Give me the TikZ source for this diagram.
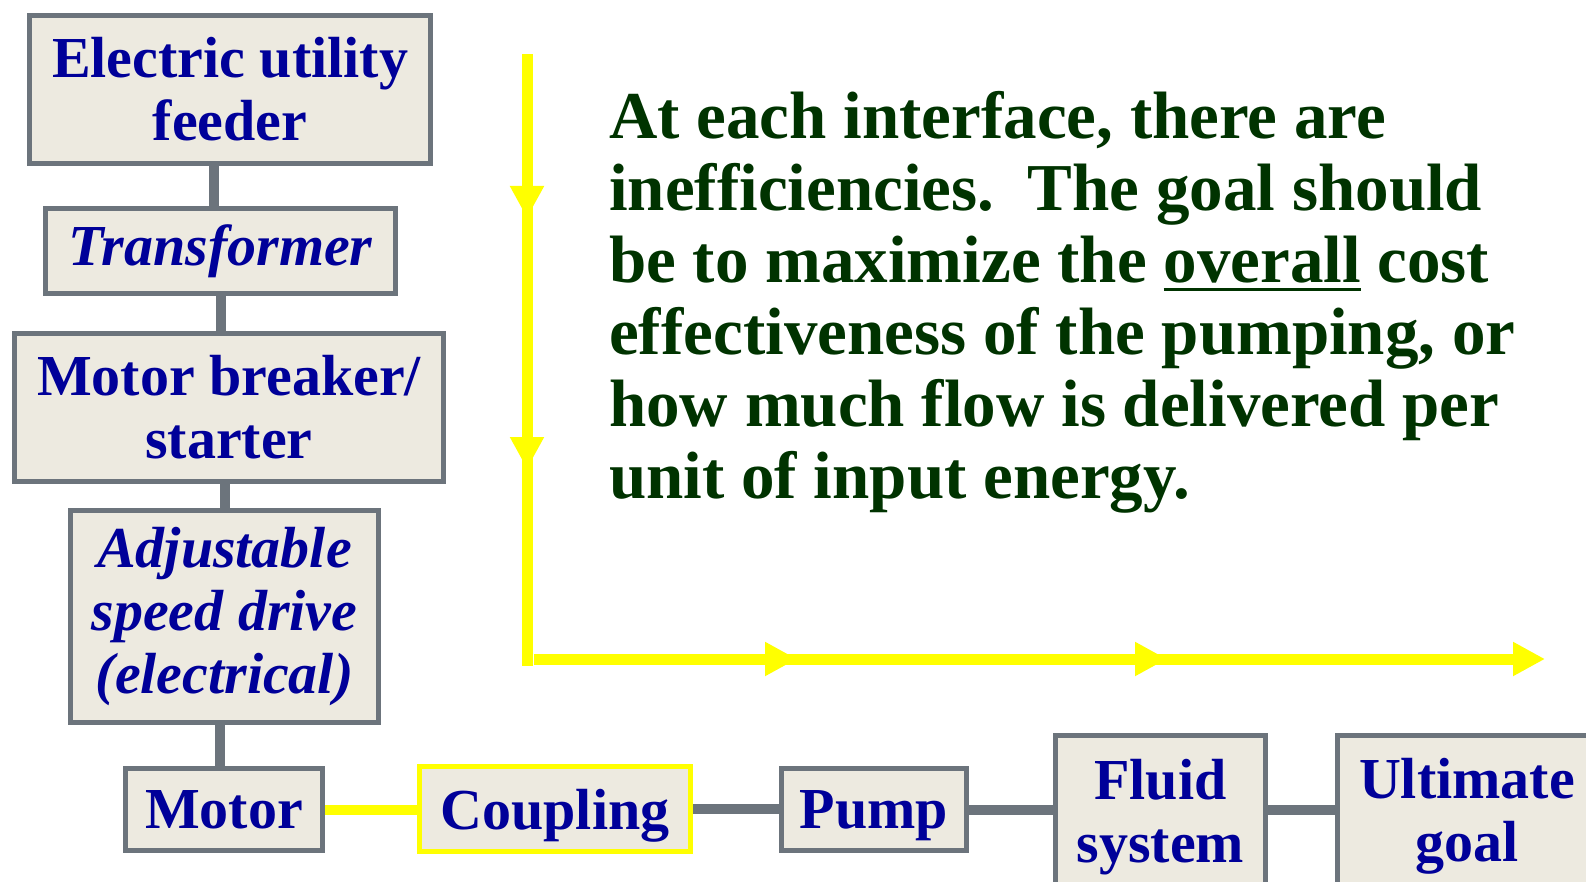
\documentclass[tikz,border=0pt]{standalone}
\usepackage{fontspec}
\setmainfont{Liberation Serif}
\usepackage{tikz}
\usetikzlibrary{positioning,arrows.meta}
\definecolor{cbox}{RGB}{237,234,224}
\definecolor{cedge}{RGB}{108,116,124}
\definecolor{cblue}{RGB}{0,0,153}
\definecolor{cgreen}{RGB}{0,51,0}
\definecolor{cflow}{RGB}{255,255,0}
\newcommand\ulword[1]{\setbox0\hbox{#1}\rlap{\rule[-9pt]{\wd0}{3pt}}\box0\relax}

\begin{document}
\begin{tikzpicture}[x=1pt,y=-1pt,
    every node/.style={font=\fontsize{58pt}{63pt}\selectfont\bfseries, text=cblue},
    box/.style={draw=cedge, fill=cbox, line width=5pt, inner sep=0pt, align=center},
    ital/.style={font=\fontsize{58pt}{63pt}\selectfont\bfseries\itshape},
    link/.style={draw=cedge, line width=10pt},
    ylink/.style={draw=cflow, line width=10pt},
    flow/.style={draw=cflow, line width=11pt, -{Triangle[length=32pt,width=32pt]}},
    yline/.style={draw=cflow, line width=11pt},
  ]
  \useasboundingbox (0,0) rectangle (1586,882);

  % ── Supply chain (left column) ──────────────────────────
  \node[box, minimum width=401pt, minimum height=148pt] (feeder) at (230,89.5)
    {Electric utility\\feeder};
  \node[box, ital, minimum width=350pt, minimum height=85pt] (xfmr) at (220.5,251)
    {Transformer};
  \node[box, minimum width=429pt, minimum height=148pt] (breaker) at (229,407.5)
    {Motor breaker/\\starter};
  \node[box, ital, minimum width=308pt, minimum height=212pt] (asd) at (224.5,616.5)
    {Adjustable\\speed drive\\(electrical)};

  % ── Mechanical chain (bottom row) ───────────────────────
  \node[box, minimum width=197pt, minimum height=82pt] (motor) at (224,809.5) {Motor};
  \node[box, draw=cflow, text depth=0pt, minimum width=271pt, minimum height=85pt]
    (coupling) at (555,809) {Coupling};
  \node[box, text depth=0pt, minimum width=185pt, minimum height=82pt] (pump) at (874,809.5)
    {Pump};
  \node[box, minimum width=210pt, minimum height=163pt] (fluid) at (1160.5,817)
    {Fluid\\system};
  \node[box, minimum width=297pt, minimum height=163pt, text width=254pt, align=left]
    (goal) at (1486,817) {\begin{tabular}{@{}c@{}}Ultimate\\goal\end{tabular}};

  % ── Links ───────────────────────────────────────────────
  \draw[link]  ([xshift=-6.5pt]xfmr.north) -- ([xshift=-6.5pt]xfmr.north |- feeder.south);
  \draw[link]  (xfmr.south) -- (xfmr.south |- breaker.north);
  \draw[link]  (asd.north) -- (asd.north |- breaker.south);
  \draw[link]  ([xshift=-4pt]motor.north) -- ([xshift=-4pt]motor.north |- asd.south);
  \draw[ylink] (motor.east) -- (coupling.west |- motor.east);
  \draw[link]  (coupling.east) -- (pump.west |- coupling.east);
  \draw[link]  (pump.east) -- (fluid.west |- pump.east);
  \draw[link]  (fluid.east |- pump.east) -- (goal.west |- pump.east);

  % ── Energy flow arrows ──────────────────────────────────
  \coordinate (f0) at (527,54);
  \coordinate (f1) at (527,218);
  \coordinate (f2) at (527,469);
  \coordinate (f3) at (527,666);
  \coordinate (h0) at (534,659);
  \coordinate (h1) at (797,659);
  \coordinate (h2) at (1167,659);
  \coordinate (h3) at (1545,659);
  \draw[flow]  (f0) -- (f1);
  \draw[flow]  ([yshift=32pt]f1) -- (f2);
  \draw[yline] ([yshift=32pt]f2) -- (f3);
  \draw[flow]  (h0) -- (h1);
  \draw[flow]  ([xshift=-32pt]h1) -- (h2);
  \draw[flow]  ([xshift=-32pt]h2) -- (h3);

  % ── Note ────────────────────────────────────────────────
  \node[font=\fontsize{67pt}{72pt}\selectfont\bfseries, text=cgreen, align=left,
        inner sep=0pt, anchor=base west] (note) at (609,498)
    {At each interface, there are\\
     inefficiencies.\ \ The goal should\\
     be to maximize the \ulword{overall} cost\\
     effectiveness of the pumping, or\\
     how much flow is delivered per\\
     unit of input energy.};

\end{tikzpicture}
\end{document}
